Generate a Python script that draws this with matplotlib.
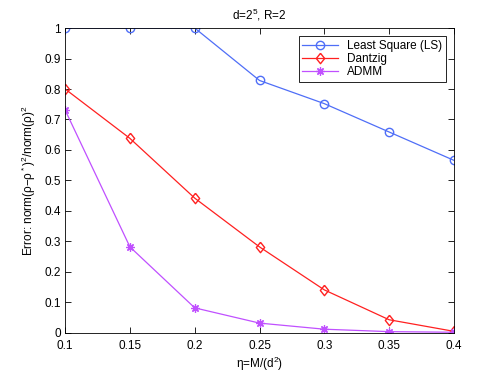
import matplotlib
matplotlib.use("Agg")
import matplotlib.pyplot as plt

eta = [0.1, 0.15, 0.2, 0.25, 0.3, 0.35, 0.4]
err_ls = [1.0, 1.0, 1.0, 0.828, 0.752, 0.659, 0.566]
err_dantzig = [0.80, 0.638, 0.442, 0.282, 0.141, 0.043, 0.005]
err_admm = [0.731, 0.282, 0.082, 0.032, 0.012, 0.004, 0.002]

plt.rcParams["font.family"] = ["Liberation Sans", "DejaVu Sans"]
plt.rcParams["mathtext.fontset"] = "custom"
plt.rcParams["mathtext.rm"] = "Liberation Sans"

# MATLAB-style diamond, a bit taller than wide
diamond = [(0, 1), (0.8, 0), (0, -1), (-0.8, 0), (0, 1)]

fig = plt.figure(figsize=(5.01, 3.74), dpi=100)
ax = fig.add_axes([0.13, 0.11, 0.776, 0.815])

ax.plot(eta, err_ls, "-o", color="#4f6ef7", mfc="none", ms=6, lw=0.9,
        label="Least Square (LS)")
ax.plot(eta, err_dantzig, "-", marker=diamond, color="#ff2020", mfc="none",
        ms=7.5, lw=0.9, label="Dantzig")
ax.plot(eta, err_admm, "-", marker=(8, 2, 0), color="#c050ff", ms=6,
        mew=0.9, lw=0.9, label="ADMM")

ax.set_xlim(0.1, 0.4)
ax.set_ylim(0, 1)
ax.set_xticks([0.1, 0.15, 0.2, 0.25, 0.3, 0.35, 0.4])
ax.set_xticklabels(["0.1", "0.15", "0.2", "0.25", "0.3", "0.35", "0.4"])
ax.set_yticks([i / 10 for i in range(11)])
ax.set_yticklabels(["0"] + ["0.%d" % i for i in range(1, 10)] + ["1"])
ax.tick_params(direction="in", length=4, width=0.6, labelsize=8.5,
               top=True, right=True, pad=3)
ax.tick_params(axis="x", pad=5)
for s in ax.spines.values():
    s.set_linewidth(0.6)

ax.set_title("d=2$^5$, R=2", fontsize=8.5, pad=6)
ax.set_xlabel("η=M/(d$^2$)", fontsize=8.5, labelpad=2)
ax.set_ylabel("Error: norm(ρ−ρ$^*$)$^2$/norm(ρ)$^2$", fontsize=8.5, labelpad=5)

leg = ax.legend(loc="upper right", fontsize=8.5, fancybox=False,
                edgecolor="black", framealpha=1, borderaxespad=0.7,
                handlelength=3, borderpad=0.3, labelspacing=0.1)
leg.get_frame().set_linewidth(0.6)

fig.savefig("out.png", dpi=100)
